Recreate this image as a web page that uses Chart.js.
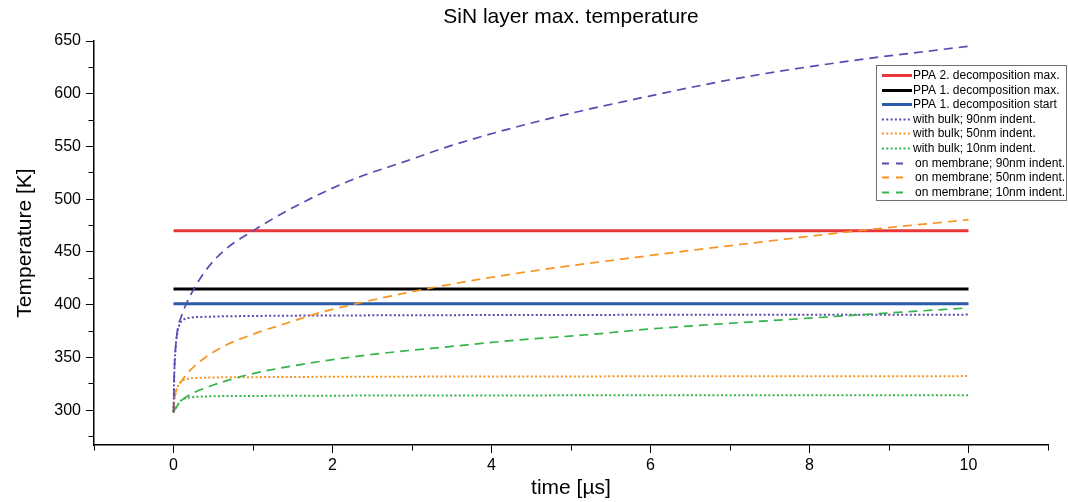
<!DOCTYPE html>
<html><head><meta charset="utf-8">
<script src="https://cdn.jsdelivr.net/npm/chart.js@4.4.1/dist/chart.umd.min.js"></script>
<style>html,body{margin:0;padding:0;background:#fff}#wrap{width:1068px;height:502px}</style>
</head><body><div id="wrap"><canvas id="c" width="1068" height="502"></canvas></div>
<script>
// ---- data ----
const chartTitle = 'SiN layer max. temperature';
const xTitle = 'time [µs]';
const yTitle = 'Temperature [K]';
const seriesLabels = [
  'PPA 2. decomposition max.',
  'PPA 1. decomposition max.',
  'PPA 1. decomposition start',
  'with bulk; 90nm indent.',
  'with bulk; 50nm indent.',
  'with bulk; 10nm indent.',
  'on membrane; 90nm indent.',
  'on membrane; 50nm indent.',
  'on membrane; 10nm indent.'
];
const limitTimes = [0, 10];
const ppa2Max = [470, 470];
const ppa1Max = [415, 415];
const ppa1Start = [401, 401];

const bulkTimes = [0, 0.01, 0.025, 0.05, 0.08, 0.12, 0.2, 0.4, 1, 3, 6, 10];
const bulk90 = [298, 335, 358, 374, 382, 385.5, 387.5, 388.5, 389.3, 390, 390.4, 390.6];
const bulk50 = [298, 308, 316, 321.5, 326, 328.5, 330, 330.8, 331.3, 331.8, 332.1, 332.3];
const bulk10 = [298, 299.5, 301.5, 304.5, 308, 310.5, 312, 313, 313.5, 313.9, 314.1, 314.2];

const membrane90Times = [0, 0.01, 0.025, 0.05, 0.1, 0.15, 0.25, 0.4, 0.63, 1, 1.5, 2.2, 3, 3.5, 4.7, 6, 7.2, 8.5, 10];
const membrane90 = [298, 335, 358, 376, 389, 399, 414, 432, 451, 470, 492, 517, 538, 551, 576, 598, 616, 631, 645];
const membrane50Times = [0, 0.01, 0.025, 0.05, 0.1, 0.2, 0.4, 0.67, 1, 1.47, 1.8, 2.3, 3.2, 4.3, 6, 7.9, 8.6, 10];
const membrane50 = [298, 308, 316, 321.5, 327.5, 337, 350, 362, 372, 383.6, 391.6, 401, 415.3, 429.5, 446.7, 464, 470, 480.6];
const membrane10Times = [0, 0.02, 0.05, 0.1, 0.15, 0.25, 0.45, 0.67, 1, 1.8, 2.6, 3.5, 4.3, 5.2, 6, 7.9, 10];
const membrane10 = [298, 301, 304.5, 309, 312, 316.5, 322.5, 328, 334.7, 345.7, 353.7, 360.5, 366.3, 371.5, 377, 386.8, 397];

const xMin = -1, xMax = 11, yMin = 267, yMax = 650;

// ---- styles ----
const RED = '#e8373b', BLACK = '#000000', BLUE = '#2a5ba9',
      PURPLE = '#5a49b0', ORANGE = '#f7931e', GREEN = '#34b44a';
const DOT = [2, 2.3], DASH = [9, 6];
Chart.defaults.font.family = "'Liberation Sans', Arial, sans-serif";
Chart.defaults.color = '#000';

const pts = (ts, vs) => ts.map((t, i) => ({x: t, y: vs[i]}));
function solid(i, t, v, c) { return {label: seriesLabels[i], data: pts(t, v), borderColor: c, borderWidth: 3, borderDash: [], order: 2, kind: 'solid'}; }
function dotted(i, t, v, c) { return {label: seriesLabels[i], data: pts(t, v), borderColor: c, borderWidth: 2, borderDash: DOT, order: 1, kind: 'dot'}; }
function dashed(i, t, v, c) { return {label: seriesLabels[i], data: pts(t, v), borderColor: c, borderWidth: 1.7, borderDash: DASH, order: 0, kind: 'dash'}; }

const datasets = [
  solid(0, limitTimes, ppa2Max, RED),
  solid(1, limitTimes, ppa1Max, BLACK),
  solid(2, limitTimes, ppa1Start, BLUE),
  dotted(3, bulkTimes, bulk90, PURPLE),
  dotted(4, bulkTimes, bulk50, ORANGE),
  dotted(5, bulkTimes, bulk10, GREEN),
  dashed(6, membrane90Times, membrane90, PURPLE),
  dashed(7, membrane50Times, membrane50, ORANGE),
  dashed(8, membrane10Times, membrane10, GREEN)
];

const titlePlugin = {
  id: 'mainTitle',
  afterDraw(chart) {
    const {ctx, chartArea: a} = chart;
    ctx.save();
    ctx.font = "21px 'Liberation Sans', Arial, sans-serif";
    ctx.fillStyle = '#000';
    ctx.textAlign = 'center';
    ctx.textBaseline = 'middle';
    ctx.fillText(chartTitle, (a.left + a.right) / 2, 17);
    ctx.restore();
  }
};

const legendPlugin = {
  id: 'boxLegend',
  afterDraw(chart) {
    const ctx = chart.ctx;
    const bx = 876, by = 65, bw = 190, bh = 135;
    ctx.save();
    ctx.fillStyle = '#fff';
    ctx.fillRect(bx, by, bw, bh);
    ctx.strokeStyle = '#707070';
    ctx.lineWidth = 1;
    ctx.setLineDash([]);
    ctx.strokeRect(bx + 0.5, by + 0.5, bw, bh);
    ctx.font = "12px 'Liberation Sans', Arial, sans-serif";
    ctx.textBaseline = 'middle';
    ctx.textAlign = 'left';
    chart.data.datasets.forEach((ds, i) => {
      const y = Math.round(75 + i * 14.6) + 0.5;
      ctx.strokeStyle = ds.borderColor;
      ctx.lineWidth = ds.kind === 'solid' ? 3 : 2;
      ctx.setLineDash(ds.kind === 'dash' ? [7, 7] : ds.borderDash);
      ctx.beginPath();
      ctx.moveTo(882, y);
      ctx.lineTo(ds.kind === 'dash' ? 904 : 912, y);
      ctx.stroke();
      ctx.fillStyle = '#000';
      ctx.fillText(ds.label, ds.kind === 'dash' ? 915 : 913, y);
    });
    ctx.restore();
  }
};

const isMajorX = v => Math.abs(v % 2) < 1e-9;
const isMajorY = v => Math.abs(v % 50) < 1e-9;

new Chart(document.getElementById('c'), {
  type: 'line',
  data: {datasets},
  options: {
    responsive: false,
    animation: false,
    events: [],
    elements: {
      point: {radius: 0, hoverRadius: 0},
      line: {tension: 0.4, cubicInterpolationMode: 'monotone', fill: false, borderCapStyle: 'butt'}
    },
    layout: {padding: {top: 41, right: 20, bottom: 0, left: 0}},
    plugins: {legend: {display: false}, title: {display: false}, tooltip: {enabled: false}},
    scales: {
      x: {
        type: 'linear', min: xMin, max: xMax,
        afterFit(s) { s.height = 57; },
        ticks: {
          stepSize: 1, autoSkip: false, maxRotation: 0, padding: 3, color: '#000',
          font: {size: 16},
          callback: v => (v >= 0 && v <= 10 && isMajorX(v)) ? String(v) : ''
        },
        grid: {
          drawOnChartArea: false, drawTicks: true, tickLength: 8, tickColor: '#000', tickWidth: 1,
          tickBorderDash: c => isMajorX(c.tick.value) ? [] : [5, 20]
        },
        border: {display: true, color: '#000', width: 1.5},
        title: {display: true, text: xTitle, color: '#000', font: {size: 21}, padding: {top: 0, bottom: 1}}
      },
      y: {
        type: 'linear', min: yMin, max: yMax,
        afterFit(s) { s.width = 94; },
        afterBuildTicks(s) { s.ticks = s.ticks.filter(t => Math.abs(t.value % 25) < 1e-9); },
        ticks: {
          stepSize: 25, includeBounds: false, autoSkip: false, padding: 5, color: '#000',
          font: {size: 16},
          callback: v => isMajorY(v) ? String(v) : ''
        },
        grid: {
          drawOnChartArea: false, drawTicks: true, tickLength: 8, tickColor: '#000', tickWidth: 1,
          tickBorderDash: c => isMajorY(c.tick.value) ? [] : [0, 2.5, 6, 20]
        },
        border: {display: true, color: '#000', width: 1.5},
        title: {display: true, text: yTitle, color: '#000', font: {size: 21}, padding: {top: 13, bottom: 0}}
      }
    }
  },
  plugins: [titlePlugin, legendPlugin]
});
</script>
</body></html>
